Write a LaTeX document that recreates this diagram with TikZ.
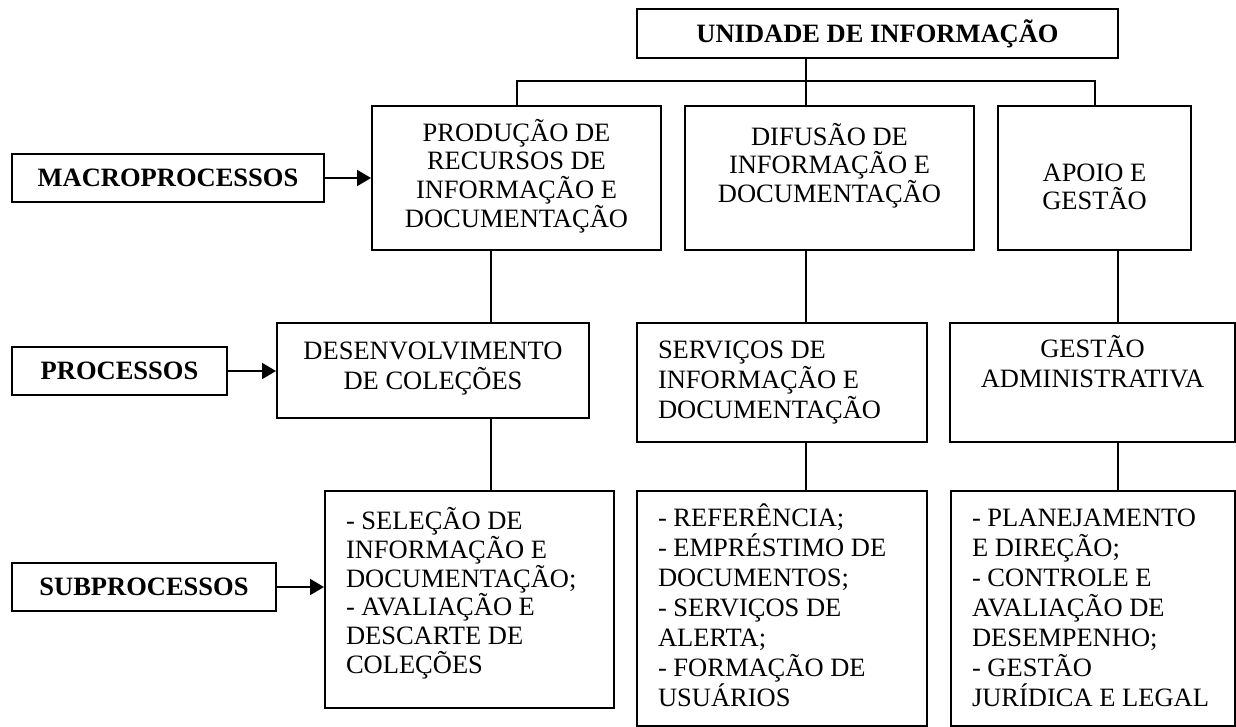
\documentclass[tikz,border=0pt]{standalone}
\usepackage{fontspec}
\setmainfont{Liberation Serif}
\usetikzlibrary{arrows.meta,positioning}
\newcommand{\bloco}[5]{\parbox[c][#2][t]{\dimexpr#1-21pt\relax}{#3\rule{0pt}{#4}#5}}

\begin{document}
\begin{tikzpicture}[x=0.5pt,y=-0.5pt,
  font=\fontsize{13.25pt}{15pt}\selectfont,
  caixa/.style={draw, line width=1pt, inner xsep=10.5pt, inner ysep=0pt, anchor=north west},
  macrocaixa/.style={caixa, font=\fontsize{13.25pt}{14.3pt}\selectfont},
  rotulo/.style={draw, line width=1pt, inner sep=0pt, minimum height=24pt,
    font=\fontsize{13.25pt}{15pt}\selectfont\bfseries},
  liga/.style={line width=1pt},
  seta/.style={line width=1pt, -{Triangle[length=7pt,width=8pt]}}]
\useasboundingbox (0,0) rectangle (1236,727);

\node[rotulo, minimum width=240.5pt, minimum height=24.5pt] (topo) at (877.5,33.5) {UNIDADE DE INFORMAÇÃO};
\node[rotulo, minimum width=156pt] (macro) at (168,178) {MACROPROCESSOS};
\node[rotulo, minimum width=107.5pt] (proc) at (119.5,371) {PROCESSOS};
\node[rotulo, minimum width=132pt] (subproc) at (144,587) {SUBPROCESSOS};

\node[macrocaixa] (m1) at (371,105) {\bloco{144.5pt}{72pt}{\centering}{17.7pt}{PRODUÇÃO DE\\RECURSOS DE\\INFORMAÇÃO E\\DOCUMENTAÇÃO}};
\node[macrocaixa] (m2) at (684,105) {\bloco{144.5pt}{72pt}{\centering}{19.7pt}{DIFUSÃO DE\\INFORMAÇÃO E\\DOCUMENTAÇÃO}};
\node[macrocaixa] (m3) at (997,105) {\bloco{96.5pt}{72pt}{\centering}{37.7pt}{APOIO E\\GESTÃO}};

\node[caixa] (p1) at (276,322) {\bloco{156pt}{47.5pt}{\centering}{18.2pt}{DESENVOLVIMENTO\\DE COLEÇÕES}};
\node[caixa] (p2) at (636,322) {\bloco{145pt}{59.5pt}{\raggedright}{17.7pt}{SERVIÇOS DE\\INFORMAÇÃO E\\DOCUMENTAÇÃO}};
\node[caixa] (p3) at (949,322) {\bloco{142.5pt}{59.5pt}{\centering}{17.2pt}{GESTÃO\\ADMINISTRATIVA}};

\node[caixa, font=\fontsize{13.25pt}{14.4pt}\selectfont] (s1) at (324,490) {\bloco{144.5pt}{108.5pt}{\raggedright}{19.2pt}{- SELEÇÃO DE\\INFORMAÇÃO E\\DOCUMENTAÇÃO;\\- AVALIAÇÃO E\\DESCARTE DE\\COLEÇÕES}};
\node[caixa] (s2) at (636,490) {\bloco{145pt}{117.5pt}{\raggedright}{17.7pt}{- REFERÊNCIA;\\- EMPRÉSTIMO DE\\DOCUMENTOS;\\- SERVIÇOS DE\\ALERTA;\\- FORMAÇÃO DE\\USUÁRIOS}};
\node[caixa] (s3) at (950,490) {\bloco{142pt}{117.5pt}{\raggedright}{17.7pt}{- PLANEJAMENTO\\E DIREÇÃO;\\- CONTROLE E\\AVALIAÇÃO DE\\DESEMPENHO;\\- GESTÃO\\JURÍDICA E LEGAL}};

\coordinate (barra) at (806,81);
\coordinate (eixo1) at (491,0);
\coordinate (eixo2) at (806,0);
\coordinate (eixo3) at (1118,0);

\draw[liga] (topo.south -| eixo2) -- (m2.north -| eixo2);
\draw[liga] (m1.north) |- (barra) -| (m3.north);
\draw[liga] (m1.south -| eixo1) -- (p1.north -| eixo1);
\draw[liga] (p1.south -| eixo1) -- (s1.north -| eixo1);
\draw[liga] (m2.south -| eixo2) -- (p2.north -| eixo2);
\draw[liga] (p2.south -| eixo2) -- (s2.north -| eixo2);
\draw[liga] (m3.south -| eixo3) -- (p3.north -| eixo3);
\draw[liga] (p3.south -| eixo3) -- (s3.north -| eixo3);

\draw[seta] (macro) -- (macro -| m1.west);
\draw[seta] (proc) -- (proc -| p1.west);
\draw[seta] (subproc) -- (subproc -| s1.west);
\end{tikzpicture}
\end{document}
